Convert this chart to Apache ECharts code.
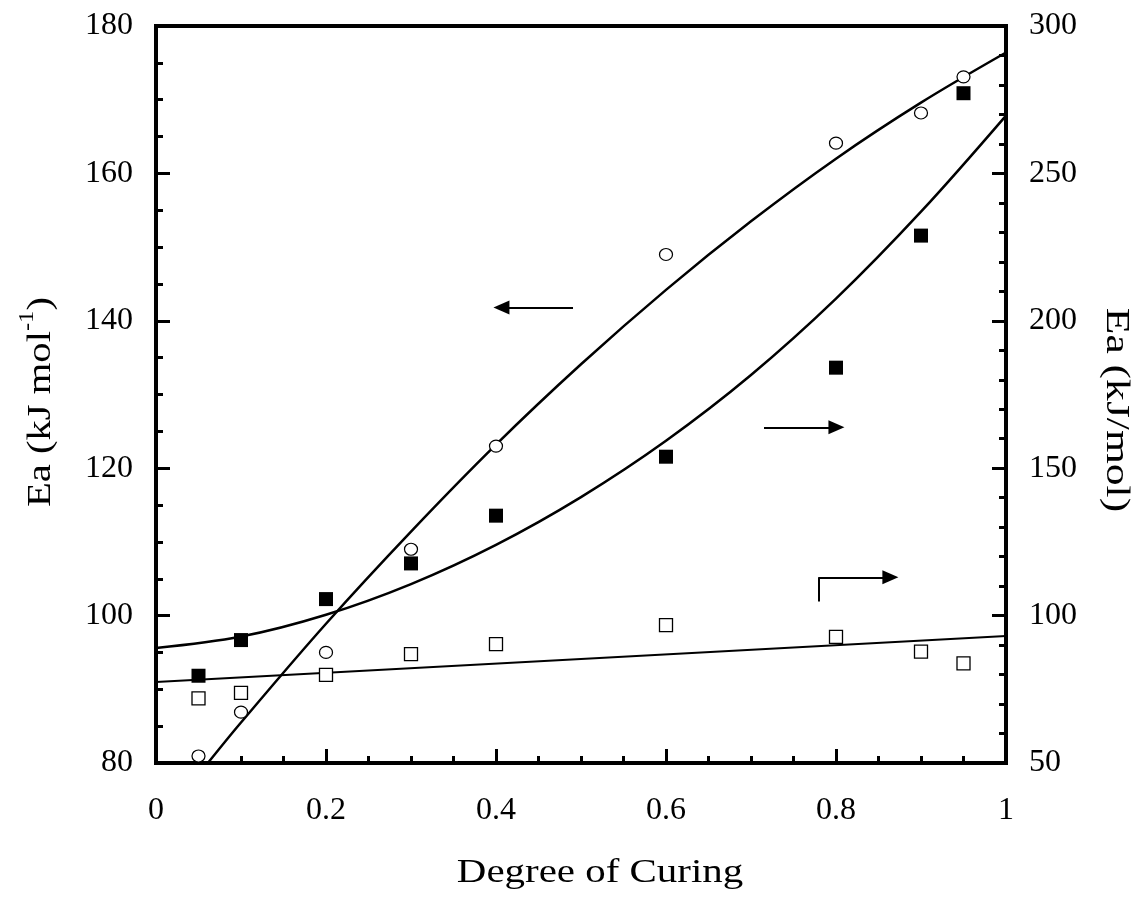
<!DOCTYPE html>
<html>
<head>
<meta charset="utf-8">
<script src="https://cdn.jsdelivr.net/npm/echarts@6/dist/echarts.min.js"></script>
<style>
html,body{margin:0;padding:0;background:#fff;}
#chart{width:1145px;height:897px;}
</style>
</head>
<body>
<div id="chart"></div>
<script>
// Degree of curing for the measured points
const xCuring = [0.05, 0.1, 0.2, 0.3, 0.4, 0.6, 0.8, 0.9, 0.95];
// Open circles (left axis, kJ mol-1)
const eaCircles = [80.95, 86.9, 95.0, 109.0, 123.0, 149.0, 164.1, 168.2, 173.1];
// Filled squares (right axis, kJ/mol)
const eaFilled = [79.6, 91.7, 105.6, 117.7, 133.9, 153.9, 184.1, 228.9, 277.2];
// Open squares (right axis, kJ/mol)
const eaOpen = [71.9, 73.8, 79.9, 86.9, 90.3, 96.8, 92.8, 87.8, 83.8];

// Fitted curves
const fitCircleX = [0.061, 0.1, 0.2, 0.3, 0.4, 0.5, 0.6, 0.7, 0.8, 0.9, 1.0];
const fitCircleY = [80.0, 85.5, 98.9, 111.4, 123.2, 134.1, 144.2, 153.5, 162.0, 169.6, 176.4];
const fitFilledX = [0, 0.1, 0.2, 0.3, 0.4, 0.5, 0.6, 0.7, 0.8, 0.9, 1.0];
const fitFilledY = [89.0, 92.9, 100.3, 110.7, 124.0, 140.2, 159.3, 181.6, 207.5, 237.0, 269.6];
const fitOpenX = [0, 1];
const fitOpenY = [77.5, 93.1];

// Annotation arrows (left-axis units)
const arrowLeft = [[0.4906, 141.8], [0.4064, 141.8]];
const arrowRight = [[0.7153, 125.55], [0.8005, 125.55]];
const arrowBentV = [[0.7796, 101.9], [0.7796, 105.2]];
const arrowBentH = [[0.7796, 105.2], [0.864, 105.2]];

// Axis titles
const xTitle = 'Degree of Curing';
const yLeftTitle = '{t|Ea (kJ mol}{s|-1}{t|)}';
const yRightTitle = 'Ea (kJ/mol)';

const zip = (xs, ys) => xs.map((x, i) => [x, ys[i]]);
const FONT = '"Liberation Serif", "Times New Roman", serif';

const chart = echarts.init(document.getElementById('chart'), null, {renderer: 'canvas'});

const lineStyleBase = {color: '#000', width: 2.5};
const arrowLine = (pts, withHead) => [
  {coord: pts[0], symbol: 'none'},
  {coord: pts[1], symbol: withHead ? 'triangle' : 'none'}
];
const tickCommon = {
  axisLine: {show: true, lineStyle: {color: '#000', width: 4}},
  axisTick: {show: true, inside: true, length: 14, lineStyle: {color: '#000', width: 3}},
  splitLine: {show: false}
};

const option = {
  animation: false,
  backgroundColor: '#fff',
  grid: {
    left: 156, right: 139, top: 26, bottom: 134,
    show: true, borderColor: '#000', borderWidth: 4, backgroundColor: 'transparent'
  },
  graphic: [
    {
      type: 'text', x: 600, y: 873, scaleX: 1.24, silent: true,
      style: {text: xTitle, font: '33px ' + FONT, fill: '#000', align: 'center', verticalAlign: 'middle'}
    },
    {
      type: 'text', x: 38, y: 402, rotation: Math.PI / 2, scaleX: 1.23, silent: true,
      style: {
        text: yLeftTitle, fill: '#000', align: 'center', verticalAlign: 'middle',
        rich: {
          t: {font: '33px ' + FONT, fill: '#000', verticalAlign: 'bottom', lineHeight: 40},
          s: {font: '20px ' + FONT, fill: '#000', verticalAlign: 'top', lineHeight: 40, padding: [0, 0, 14, 0]}
        }
      }
    },
    {
      type: 'text', x: 1116, y: 410, rotation: -Math.PI / 2, scaleX: 1.32, silent: true,
      style: {text: yRightTitle, font: '33px ' + FONT, fill: '#000', align: 'center', verticalAlign: 'middle'}
    }
  ],
  xAxis: Object.assign({
    type: 'value', min: 0, max: 1, interval: 0.2,
    minorTick: {show: true, splitNumber: 4, length: 7, lineStyle: {color: '#000', width: 3}},
    axisLabel: {fontFamily: FONT, fontSize: 32, color: '#000', margin: 32}
  }, tickCommon),
  yAxis: [
    Object.assign({
      type: 'value', min: 80, max: 180, interval: 20, position: 'left',
      minorTick: {show: true, splitNumber: 4, length: 7, lineStyle: {color: '#000', width: 3}},
      axisLabel: {fontFamily: FONT, fontSize: 32, color: '#000', margin: 23}
    }, tickCommon),
    Object.assign({
      type: 'value', min: 50, max: 300, interval: 50, position: 'right',
      minorTick: {show: true, splitNumber: 5, length: 7, lineStyle: {color: '#000', width: 3}},
      axisLabel: {fontFamily: FONT, fontSize: 32, color: '#000', margin: 23}
    }, tickCommon)
  ],
  series: [
    {
      name: 'fitCircle', type: 'line', yAxisIndex: 0, smooth: 0.35,
      showSymbol: false, data: zip(fitCircleX, fitCircleY), lineStyle: lineStyleBase, z: 2,
      markLine: {
        silent: true, animation: false, symbolSize: [14, 16],
        label: {show: false},
        lineStyle: {color: '#000', width: 2, type: 'solid'},
        itemStyle: {color: '#000'},
        emphasis: {disabled: true},
        data: [
          arrowLine(arrowLeft, true),
          arrowLine(arrowRight, true),
          arrowLine(arrowBentV, false),
          arrowLine(arrowBentH, true)
        ]
      }
    },
    {
      name: 'fitFilled', type: 'line', yAxisIndex: 1, smooth: 0.35,
      showSymbol: false, data: zip(fitFilledX, fitFilledY), lineStyle: lineStyleBase, z: 2
    },
    {
      name: 'fitOpen', type: 'line', yAxisIndex: 1,
      showSymbol: false, data: zip(fitOpenX, fitOpenY), lineStyle: {color: '#000', width: 2}, z: 2
    },
    {
      name: 'circles', type: 'scatter', yAxisIndex: 0, symbol: 'circle', symbolSize: [13, 12],
      data: zip(xCuring, eaCircles),
      itemStyle: {color: '#fff', borderColor: '#000', borderWidth: 1.2, opacity: 1}, z: 3
    },
    {
      name: 'filledSquares', type: 'scatter', yAxisIndex: 1, symbol: 'rect', symbolSize: 14,
      data: zip(xCuring, eaFilled),
      itemStyle: {color: '#000', opacity: 1}, z: 3
    },
    {
      name: 'openSquares', type: 'scatter', yAxisIndex: 1, symbol: 'rect', symbolSize: 13,
      data: zip(xCuring, eaOpen),
      itemStyle: {color: '#fff', borderColor: '#000', borderWidth: 1.3, opacity: 1}, z: 3
    }
  ]
};
chart.setOption(option);
</script>
</body>
</html>
